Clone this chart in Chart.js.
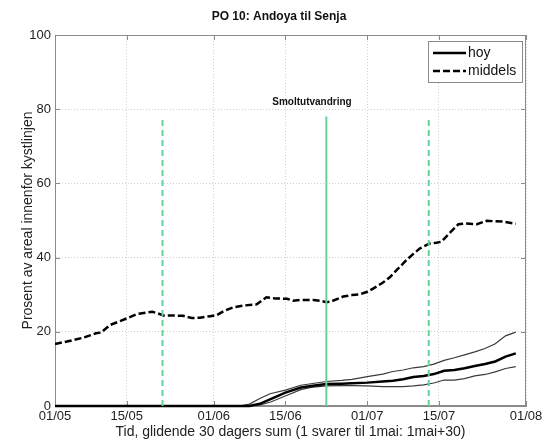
<!DOCTYPE html>
<html>
<head>
<meta charset="utf-8">
<title>PO 10: Andoya til Senja</title>
<script src="https://cdn.jsdelivr.net/npm/chart.js@4"></script>
<style>
  html, body { margin: 0; padding: 0; background: #fff; }
  #wrap { width: 546px; height: 442px; }
</style>
</head>
<body>
<div id="wrap"><canvas id="poChart" width="546" height="442"></canvas></div>
<script>
    // x = dager etter 1. mai
    const xTicks = [0, 14, 31, 45, 61, 75, 92];
    const xTickLabels = ['01/05', '15/05', '01/06', '15/06', '01/07', '15/07', '01/08'];

    // middels (stiplet)
    const middelsDays = [0, 3, 5.5, 8, 9, 10.7, 12, 14, 16, 17, 19, 20, 21.2, 23, 25, 26.7, 28.3, 30.3,
        31.6, 33, 34.8, 37, 39.4, 41.3, 43, 45.3, 46.5, 48, 50.5, 52, 53, 54, 56.3, 58, 59.6, 61,
        62.2, 64, 65.4, 67, 68.7, 70, 71.3, 73.2, 74.5, 75.5, 77, 78.8, 80, 82.4, 84.3, 86, 87.6, 90];
    const middelsValues = [16.7, 17.6, 18.4, 19.6, 19.8, 21.8, 22.5, 23.6, 24.8, 25.0, 25.4, 25.0, 24.4, 24.4, 24.3, 23.7, 23.8, 24.2,
        24.5, 25.6, 26.6, 27.1, 27.4, 29.3, 29.0, 28.9, 28.4, 28.6, 28.6, 28.3, 28.0, 28.2, 29.5, 29.9, 30.1, 30.8,
        31.7, 33.2, 34.7, 37.0, 39.4, 41.0, 42.5, 43.8, 44.0, 44.3, 46.5, 49.0, 49.2, 49.0, 49.9, 49.8, 49.7, 49.1];

    // hoy med ovre og nedre kurve
    const hoyDays = [0, 36, 38, 40, 42, 45, 48, 50, 53, 56, 58, 61, 64, 66, 68, 70, 72, 74, 76, 78, 80, 82, 84, 86, 88, 90];
    const hoyValues = [0, 0, 0, 0.6, 1.8, 3.6, 5.0, 5.4, 5.9, 6.0, 6.1, 6.3, 6.6, 6.8, 7.2, 7.8, 8.1, 8.6, 9.5, 9.7, 10.2, 10.8, 11.3, 12.0, 13.3, 14.2];
    const hoyUpper = [0, 0, 0.5, 2.0, 3.3, 4.3, 5.6, 6.0, 6.6, 6.9, 7.2, 7.9, 8.6, 9.3, 9.7, 10.3, 10.6, 11.3, 12.3, 13.0, 13.8, 14.6, 15.5, 16.8, 18.9, 19.9];
    const hoyLower = [0, 0, 0, 0.3, 1.0, 2.7, 4.4, 5.0, 5.4, 5.5, 5.5, 5.4, 5.2, 5.2, 5.2, 5.4, 5.7, 6.2, 7.0, 7.0, 7.4, 8.1, 8.5, 9.2, 10.1, 10.6];

    // smoltutvandring: start, topp, slutt
    const smoltDays = [21, 53, 73];
    const smoltTop = 78;
    const smoltText = 'Smoltutvandring';
    const smoltTextAt = { x: 50.2, y: 82 };

    const FONT = "'Liberation Sans', Arial, Helvetica, sans-serif";
    const GREEN = '#5fd39b';
    const FRAME = '#8a8a8a';

    const pts = (xs, ys) => xs.map((x, i) => ({ x, y: ys[i] }));
    const vline = (d, dashed) => ({
        data: [{ x: d, y: 0 }, { x: d, y: smoltTop }],
        borderColor: GREEN, borderWidth: 2, borderDash: dashed ? [6, 4] : [],
        pointRadius: 0, order: 0
    });

    // ramme og innvendige tick-merker, som i matlab
    const framePlugin = {
        id: 'frame',
        beforeDatasetsDraw(chart) {
            const { ctx, chartArea: a, scales: { x, y } } = chart;
            ctx.save();
            ctx.strokeStyle = FRAME;
            ctx.lineWidth = 1;
            ctx.strokeRect(a.left + 0.5, a.top + 0.5, a.right - a.left - 1, a.bottom - a.top - 1);
            ctx.beginPath();
            x.ticks.forEach(t => {
                const px = Math.round(x.getPixelForValue(t.value)) + 0.5;
                ctx.moveTo(px, a.bottom); ctx.lineTo(px, a.bottom - 5);
                ctx.moveTo(px, a.top); ctx.lineTo(px, a.top + 5);
            });
            y.ticks.forEach(t => {
                const py = Math.round(y.getPixelForValue(t.value)) + 0.5;
                ctx.moveTo(a.left, py); ctx.lineTo(a.left + 5, py);
                ctx.moveTo(a.right, py); ctx.lineTo(a.right - 5, py);
            });
            ctx.stroke();
            ctx.restore();
        },
        afterDatasetsDraw(chart) {
            const { ctx, scales: { x, y } } = chart;
            ctx.save();
            // tekst over smoltlinjene
            ctx.fillStyle = '#111';
            ctx.font = 'bold 10px ' + FONT;
            ctx.textAlign = 'center';
            ctx.textBaseline = 'middle';
            ctx.fillText(smoltText, x.getPixelForValue(smoltTextAt.x), y.getPixelForValue(smoltTextAt.y));

            // tittel
            ctx.font = 'bold 12px ' + FONT;
            ctx.fillText('PO 10: Andoya til Senja', chart.width / 2 + 6, 17);
            ctx.restore();
        }
    };

    // legendeboks oppe til hoyre
    const legendBox = {
        id: 'legendBox',
        afterDraw(chart) {
            const { ctx, chartArea: a } = chart;
            const bx = a.right - 98, by = a.top + 6, bw = 94, bh = 41;
            ctx.save();
            ctx.fillStyle = '#fff';
            ctx.fillRect(bx, by, bw, bh);
            ctx.strokeStyle = FRAME;
            ctx.lineWidth = 1;
            ctx.strokeRect(bx + 0.5, by + 0.5, bw, bh);
            const items = chart.data.datasets.filter(d => d.inLegend);
            items.forEach((d, i) => {
                const ly = by + 12 + i * 18;
                ctx.beginPath();
                ctx.strokeStyle = d.borderColor;
                ctx.lineWidth = d.borderWidth;
                ctx.setLineDash(d.borderDash || []);
                ctx.moveTo(bx + 5, ly); ctx.lineTo(bx + 38, ly);
                ctx.stroke();
                ctx.setLineDash([]);
                ctx.fillStyle = '#111';
                ctx.font = '14px ' + FONT;
                ctx.textBaseline = 'middle';
                ctx.fillText(d.label, bx + 40, ly);
            });
            ctx.restore();
        }
    };

    const ctx = document.getElementById('poChart').getContext('2d');
    const chart = new Chart(ctx, {
        type: 'line',
        data: {
            datasets: [
                vline(smoltDays[0], true),
                vline(smoltDays[1], false),
                vline(smoltDays[2], true),
                { label: 'hoy', inLegend: true, data: pts(hoyDays, hoyValues), borderColor: '#000', borderWidth: 2.5, pointRadius: 0, clip: false, order: 1 },
                { label: 'ovre', data: pts(hoyDays, hoyUpper), borderColor: '#3a3a3a', borderWidth: 1.2, pointRadius: 0, order: 2 },
                { label: 'nedre', data: pts(hoyDays, hoyLower), borderColor: '#3a3a3a', borderWidth: 1.2, pointRadius: 0, order: 2 },
                { label: 'middels', inLegend: true, data: pts(middelsDays, middelsValues), borderColor: '#000', borderWidth: 2.5, borderDash: [7, 3], pointRadius: 0, order: 1 }
            ]
        },
        options: {
            responsive: false,
            animation: false,
            devicePixelRatio: 1,
            layout: { padding: { top: 35, right: 20, left: 0, bottom: 0 } },
            plugins: { legend: { display: false }, tooltip: { enabled: false } },
            scales: {
                x: {
                    type: 'linear', min: 0, max: 92,
                    afterBuildTicks: s => { s.ticks = xTicks.map(v => ({ value: v })); },
                    afterFit: s => { s.height = 36; },
                    ticks: {
                        autoSkip: false, maxRotation: 0, padding: 3, color: '#222',
                        font: { family: FONT, size: 13 },
                        callback: (v, i) => xTickLabels[i]
                    },
                    grid: { color: '#cfcfcf', drawTicks: false },
                    border: { color: FRAME, dash: [1, 2] },
                    title: {
                        display: true, text: 'Tid, glidende 30 dagers sum (1 svarer til 1mai: 1mai+30)',
                        color: '#222', font: { family: FONT, size: 14 }, padding: { top: 0, bottom: 1 }
                    }
                },
                y: {
                    min: 0, max: 100,
                    afterFit: s => { s.width = 55; },
                    ticks: { stepSize: 20, padding: 4, color: '#222', font: { family: FONT, size: 13 } },
                    grid: { color: '#cfcfcf', drawTicks: false },
                    border: { color: FRAME, dash: [1, 2] },
                    title: {
                        display: true, text: 'Prosent av areal innenfor kystlinjen',
                        color: '#222', font: { family: FONT, size: 14 }, padding: { top: 20, bottom: 0 }
                    }
                }
            }
        },
        plugins: [framePlugin, legendBox]
    });
</script>
</body>
</html>
